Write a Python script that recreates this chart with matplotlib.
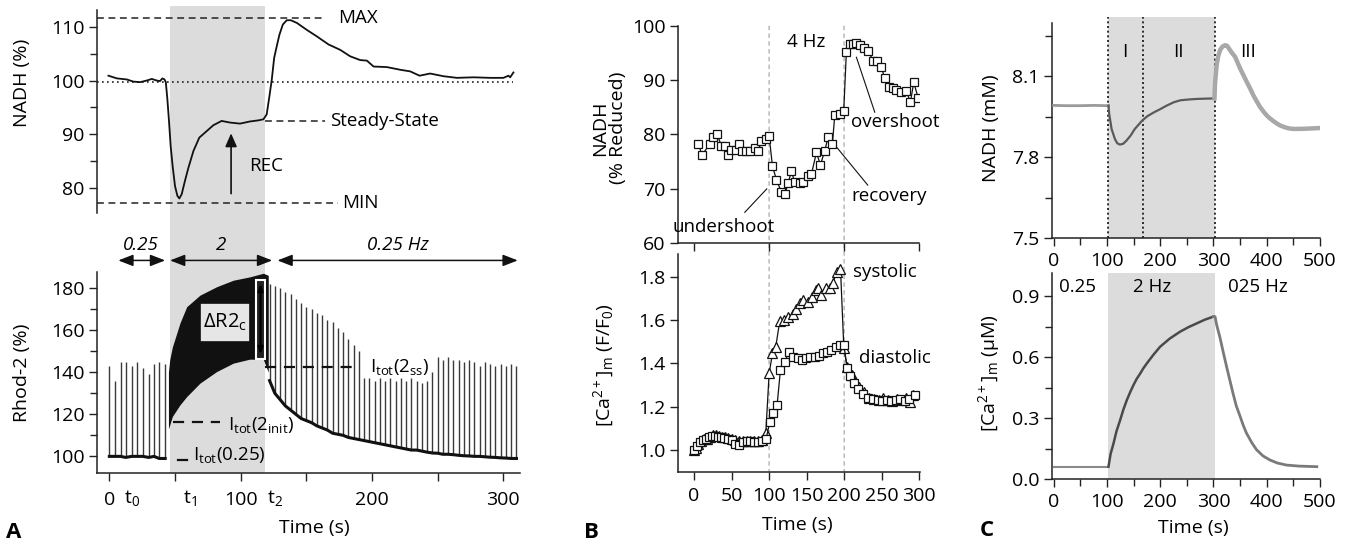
import numpy as np
import matplotlib
matplotlib.use('Agg')
import matplotlib.pyplot as plt
from matplotlib.patches import Rectangle
from matplotlib.lines import Line2D

plt.rcParams['font.family'] = ['Open Sans', 'DejaVu Sans']
plt.rcParams['mathtext.fontset'] = 'custom'
plt.rcParams['mathtext.rm'] = 'Open Sans'
plt.rcParams['mathtext.it'] = 'Open Sans:italic'
plt.rcParams['mathtext.bf'] = 'Open Sans:bold'

# ---------------- Panel A (top): NADH (%) ----------------
a_nadh_t = [-0.7, 5.7, 13.3, 18.3, 23.4, 28.5, 32.3, 36.1, 38.6, 40.4, 42.0, 43.0, 44.2, 45.5,
            46.7, 48.2, 50.0, 51.8, 53.3, 55.1, 57.6, 60.2, 64.0, 68.5, 74.1, 79.2, 85.5,
            91.8, 99.5, 107.1, 113.4, 117.3, 119.8, 121.9, 123.7, 125.5, 127.5, 129.5,
            132.1, 135.1, 138.2, 142.8, 150.4, 158.0, 166.9, 175.8, 183.4, 191.0, 196.1,
            201.2, 211.3, 221.5, 229.1, 236.2, 244.3, 254.5, 264.6, 277.3, 290.0, 300.1,
            303.9, 305.2, 307.7]
a_nadh_v = [100.9, 100.4, 100.2, 99.8, 99.7, 100.0, 100.3, 100.0, 99.9, 100.4, 100.2, 99.7,
            96.5, 92.2, 87.8, 84.1, 80.4, 78.6, 78.1, 78.9, 81.4, 83.8, 86.9, 89.4, 90.6,
            91.7, 92.5, 92.2, 92.0, 92.4, 92.6, 92.8, 93.7, 97.1, 100.2, 104.2, 106.4,
            108.5, 110.4, 111.2, 111.2, 110.7, 109.4, 108.2, 106.7, 105.7, 104.5, 103.8,
            103.7, 102.6, 102.5, 102.0, 101.7, 100.9, 101.3, 100.8, 100.5, 100.6, 100.5,
            100.5, 100.9, 100.6, 101.5]
a_nadh_max = 111.6
a_nadh_ss = 92.5
a_nadh_min = 77.3
a_nadh_base = 99.8

# ---------------- Panel A (bottom): Rhod-2 (%) ----------------
rhod_pre_t = [0, 4.5, 8.5, 12.5, 17, 21, 25.5, 30, 34, 38, 42.5]
rhod_pre_base = [100, 100, 100, 99.5, 100, 100, 100, 99.5, 100, 99, 99]
rhod_pre_peak = [143, 136, 145, 145, 143, 145, 142, 139, 144, 145, 144]

rhod_2hz_t = [45, 46, 48, 53.8, 58.9, 69, 81.7, 94.4, 107, 117.3, 121]
rhod_2hz_low = [113, 115, 119, 124.5, 128.4, 134.8, 140.3, 144.3, 146.2, 146, 140]
rhod_2hz_high = [140, 146, 152, 163.4, 171.1, 176.6, 180.6, 183.7, 185.3, 187, 186]

rhod_post_t = [122, 126, 130, 134, 138, 142, 146, 150, 154, 158, 162, 166, 170, 174, 178,
               182, 186, 190, 194, 198, 202, 206, 210, 214, 218, 222, 226, 230, 234, 238,
               242, 246, 250, 254, 258, 262, 266, 270, 274, 278, 282, 286, 290, 294, 298,
               302, 306, 310]
rhod_post_base = [136, 130, 127, 124, 122, 120, 118, 117, 116, 114.5, 113.5, 112.5, 111,
                  110.5, 110, 109, 108.5, 108, 107.5, 107, 106.5, 106, 105.5, 105, 104.5,
                  104, 103.5, 103, 103, 102.5, 102, 101.6, 101.5, 101, 101, 100.8, 100.5,
                  100.3, 100.2, 100, 100, 99.8, 99.6, 99.5, 99.3, 99.2, 99, 99]
rhod_post_peak = [182, 181, 180, 178, 177, 175, 173, 171, 170, 168, 167, 165, 164, 161,
                  159, 156, 153, 150, 137, 137, 136, 137, 136, 137, 136, 137, 136, 137,
                  136, 135, 136, 140, 147, 146, 147, 146, 146, 145, 146, 145, 143, 145,
                  144, 143, 144, 143, 144, 143]

# ---------------- Panel B (top): NADH (% reduced) ----------------
b_nadh_t = [5.3, 10.7, 20.9, 25.3, 30.7, 36.5, 41.3, 45.3, 49.8, 55.6, 60, 64.5, 69.8, 75.1,
            80.9, 85.3, 89.8, 95.6, 100, 104.5, 109.8, 116.5, 121, 125.4, 129.8, 134.2,
            140.9, 145.4, 152, 156.5, 163.2, 168.5, 174.2, 178.7, 184.5, 187.6, 194.2,
            199.6, 203.1, 207.6, 212, 216.5, 220.9, 226.3, 232, 238.7, 244, 249.8, 254.3,
            260, 265.4, 269.8, 276.5, 283.2, 288.5, 293, 298.7]
b_nadh_v = [78.3, 76.3, 78.2, 79.6, 80, 77.9, 77.9, 76.3, 77.2, 77.1, 78.3, 76.9, 76.9, 76.9,
            77.5, 76.9, 78.8, 79.2, 79.8, 74.2, 71.7, 69.4, 69, 71, 73.3, 71.2, 71.1, 71.2,
            72.4, 72.7, 76.7, 74.4, 77, 79.5, 78.3, 83.5, 83.8, 84.4, 95.1, 96.6, 96.7,
            96.9, 96.4, 95.9, 95.4, 93.6, 93.6, 92.4, 90.3, 88.8, 88.5, 88.2, 87.9, 88,
            85.9, 89.6, 86.8]

# ---------------- Panel B (bottom): [Ca2+]m (F/F0) ----------------
b_sys_t = [0, 3, 6, 9, 13, 17, 21, 25, 29, 33, 37, 41, 45, 50, 55, 60, 65, 70, 75, 80, 85, 90,
           95.6, 100.1, 104.5, 108.9, 114.3, 119.6, 125.4, 132, 136.5, 140.9, 145.4, 152,
           156.5, 162.2, 165.4, 169.8, 175.6, 180.9, 185.4, 189.8, 195.1, 199.6, 204, 209.8,
           214.2, 220, 226.2, 233.3, 240, 246, 252, 258, 264, 270, 276, 282, 287.6, 292]
b_sys_v = [1.0, 1.01, 1.03, 1.04, 1.05, 1.05, 1.06, 1.07, 1.07, 1.065, 1.06, 1.06, 1.055, 1.05,
           1.045, 1.04, 1.04, 1.04, 1.04, 1.04, 1.04, 1.045, 1.077, 1.354, 1.446, 1.477,
           1.597, 1.6, 1.615, 1.63, 1.65, 1.677, 1.692, 1.685, 1.708, 1.738, 1.746, 1.715,
           1.746, 1.75, 1.772, 1.823, 1.838, 1.469, 1.385, 1.346, 1.315, 1.292, 1.269,
           1.238, 1.235, 1.23, 1.24, 1.23, 1.225, 1.235, 1.23, 1.24, 1.223, 1.254]
b_dia_t = [0, 4, 8, 12, 16, 20, 24, 28, 32, 36, 40, 45, 50, 55, 60, 65, 70, 75, 80, 85, 90, 96,
           101, 105.4, 110.7, 115.1, 120.9, 126.7, 132, 138.7, 144.4, 149.8, 155.1, 160.9,
           166.7, 172, 177.3, 183.1, 188.9, 194.2, 199.6, 204, 207.6, 212.9, 218.7, 225.3,
           232, 238.7, 245.3, 251, 257, 263, 269, 275, 281, 287, 294]
b_dia_v = [1.0, 1.02, 1.035, 1.045, 1.05, 1.06, 1.065, 1.065, 1.06, 1.06, 1.055, 1.05, 1.045,
           1.03, 1.025, 1.035, 1.04, 1.04, 1.035, 1.035, 1.04, 1.05, 1.131, 1.172, 1.208,
           1.369, 1.408, 1.454, 1.428, 1.423, 1.415, 1.423, 1.431, 1.428, 1.434, 1.446,
           1.454, 1.462, 1.474, 1.485, 1.485, 1.377, 1.342, 1.308, 1.28, 1.259, 1.238,
           1.234, 1.231, 1.225, 1.23, 1.225, 1.23, 1.235, 1.228, 1.235, 1.254]

# ---------------- Panel C: model ----------------
c_nadh_t = [0, 25, 50, 75, 103, 104.4, 108.8, 115, 119.4, 124.4, 130.6, 136.9, 144.4, 152.5,
            160.6, 166.3, 176, 188, 200, 213, 226, 238, 254, 269, 285, 302, 303, 306, 309,
            312.5, 317, 321.9, 326, 331, 335, 340.6, 345, 350, 356, 362.5, 369, 375, 381,
            387.5, 394, 400, 406, 412.5, 419, 425, 434, 443.8, 452, 462.5, 475, 487, 496.9]
c_nadh_v = [7.992, 7.991, 7.991, 7.992, 7.991, 7.96, 7.905, 7.868, 7.852, 7.847, 7.85, 7.862,
            7.88, 7.905, 7.923, 7.936, 7.952, 7.966, 7.978, 7.992, 8.004, 8.011, 8.014,
            8.016, 8.017, 8.018, 8.073, 8.141, 8.175, 8.197, 8.21, 8.215, 8.212, 8.197,
            8.186, 8.172, 8.152, 8.129, 8.105, 8.079, 8.054, 8.029, 8.008, 7.986, 7.969,
            7.955, 7.944, 7.934, 7.925, 7.918, 7.911, 7.906, 7.905, 7.905, 7.906, 7.907,
            7.908]
c_ca_t = [0, 50, 103, 107, 112.5, 118, 125, 131, 137.5, 144, 150, 156, 162.5, 168.5, 175,
          187.5, 200, 218, 237.5, 253, 268.8, 284, 300, 303, 306, 312, 318, 325, 331, 337,
          343, 350, 356, 362, 372, 381, 393, 406, 420, 437, 460, 494]
c_ca_v = [0.062, 0.062, 0.062, 0.125, 0.177, 0.236, 0.292, 0.343, 0.39, 0.43, 0.464, 0.494,
          0.52, 0.546, 0.57, 0.613, 0.652, 0.692, 0.726, 0.748, 0.767, 0.785, 0.8, 0.8,
          0.76, 0.70, 0.63, 0.55, 0.485, 0.42, 0.36, 0.31, 0.265, 0.227, 0.18, 0.145,
          0.115, 0.095, 0.08, 0.07, 0.065, 0.062]

# tick labels
a_nadh_ticks = [80, 90, 100, 110]
a_rhod_ticks = [100, 120, 140, 160, 180]
a_time_ticks = [0, 50, 100, 150, 200, 250, 300]
a_time_labels = ['0', '', '100', '', '200', '', '300']
b_nadh_ticks = [60, 70, 80, 90, 100]
b_ca_ticks = [1.0, 1.2, 1.4, 1.6, 1.8]
b_time_ticks = [0, 50, 100, 150, 200, 250, 300]
c_nadh_ticks = [7.5, 7.8, 8.1]
c_ca_ticks = [0.0, 0.3, 0.6, 0.9]
c_time_ticks = [0, 100, 200, 300, 400, 500]

# ================= figure =================
W, H = 1351, 547
fig = plt.figure(figsize=(W / 100, H / 100), dpi=100)
FS = 14
AFS = 13.5
SHADE = '#dcdcdc'


def ax_px(x0, y0, x1, y1):
    ax = fig.add_axes([x0 / W, 1 - y1 / H, (x1 - x0) / W, (y1 - y0) / H])
    ax.patch.set_alpha(0)
    for s in ['top', 'right']:
        ax.spines[s].set_visible(False)
    for s in ['left', 'bottom']:
        ax.spines[s].set_linewidth(1.1)
        ax.spines[s].set_color('#222222')
    ax.tick_params(which='major', direction='out', length=6, width=1.0, labelsize=FS,
                   pad=3, color='#222222')
    ax.tick_params(which='minor', direction='out', length=5, width=1.0, color='#222222')
    return ax


def ftext(x, y, s, **kw):
    return fig.text(x / W, 1 - y / H, s, **kw)


def d2f(ax, x, y):
    p = ax.transData.transform((x, y))
    return fig.transFigure.inverted().transform(p)


# ---------- Panel A ----------
axA1 = ax_px(97, 10, 520, 213)
axA2 = ax_px(97, 272, 520, 473)
for ax in (axA1, axA2):
    ax.set_xlim(-9.4, 312.7)
axA1.set_ylim(75.4, 113.1)
axA2.set_ylim(92.1, 187.6)
axA1.spines['bottom'].set_visible(False)
axA1.set_xticks([])
axA1.set_yticks(a_nadh_ticks)
axA1.set_yticks([85, 95, 105], minor=True)
axA2.set_yticks(a_rhod_ticks)
axA2.set_yticks([110, 130, 150, 170], minor=True)
axA2.set_xticks(a_time_ticks)
axA2.set_xticklabels(a_time_labels)
axA2.tick_params(axis='x', pad=7)

# shading spanning both A panels
x0 = d2f(axA2, 46, 100)[0]
x1 = d2f(axA2, 118.5, 100)[0]
fig.add_artist(Rectangle((x0, 1 - 473 / H), x1 - x0, (473 - 6) / H,
                         transform=fig.transFigure, facecolor=SHADE, edgecolor='none',
                         zorder=-1))

# A top trace
axA1.plot(a_nadh_t, a_nadh_v, color='#111111', lw=1.3, zorder=3)
axA1.plot([-9.4, 307.7], [a_nadh_base] * 2, color='#222222', lw=1.2, ls=(0, (1, 2)))
dash = (0, (4.5, 3))
axA1.plot([-9.4, 164], [a_nadh_max] * 2, color='#222222', lw=1.1, ls=dash, clip_on=False)
axA1.plot([118.5, 164], [a_nadh_ss] * 2, color='#222222', lw=1.1, ls=dash)
axA1.plot([-9.4, 174], [a_nadh_min] * 2, color='#222222', lw=1.1, ls=dash)
axA1.text(174.2, a_nadh_max, 'MAX', fontsize=AFS, va='center', ha='left')
axA1.text(168, a_nadh_ss, 'Steady-State', fontsize=AFS, va='center', ha='left')
axA1.text(177, a_nadh_min, 'MIN', fontsize=AFS, va='center', ha='left')
axA1.text(106.5, 84.2, 'REC', fontsize=AFS, va='center', ha='left')
axA1.annotate('', xy=(92.7, 90.2), xytext=(92.7, 79.0),
              arrowprops=dict(arrowstyle='-|>,head_length=0.8,head_width=0.35', color='#111111',
                              lw=1.2, shrinkA=0, shrinkB=0))

# A bottom trace
axA2.vlines(rhod_pre_t, rhod_pre_base, rhod_pre_peak, color='#3a3a3a', lw=1.0)
axA2.plot(rhod_pre_t, rhod_pre_base, color='#111111', lw=2.2)
axA2.fill_between(rhod_2hz_t, rhod_2hz_low, rhod_2hz_high, color='#111111', lw=0, zorder=2)
axA2.vlines(rhod_post_t, rhod_post_base, rhod_post_peak, color='#3a3a3a', lw=1.0)
axA2.plot(rhod_post_t, rhod_post_base, color='#111111', lw=2.2)

# boxes
axA2.add_patch(Rectangle((69.1, 154.4), 38.1, 18.4, facecolor='#e6e6e6', edgecolor='#111111',
                         lw=1.2, zorder=4))
axA2.text(88.2, 163.6, r'ΔR2$_{\mathregular{c}}$', fontsize=AFS + 1, ha='center',
          va='center', zorder=5)
axA2.add_patch(Rectangle((111.5, 146.5), 7.3, 37.5, facecolor='#222222', edgecolor='white',
                         lw=1.5, zorder=4))
axA2.annotate('', xy=(115.1, 182), xytext=(115.1, 148.5),
              arrowprops=dict(arrowstyle='<|-|>,head_length=0.4,head_width=0.15',
                              color='#000000', lw=1.5, shrinkA=0, shrinkB=0), zorder=5)

hd = (0, (5, 3.5))
axA2.plot([118.7, 185.6], [142.6, 142.6], color='#111111', lw=1.6, ls=hd, zorder=5)
axA2.text(198.5, 142.5, r'$\mathregular{I_{tot}(2_{ss})}$', fontsize=AFS, va='center')
axA2.plot([48.5, 84.3], [116.1, 116.1], color='#111111', lw=1.6, ls=hd, zorder=5)
axA2.text(90.4, 114.8, r'$\mathregular{I_{tot}(2_{init})}$', fontsize=AFS, va='center')
axA2.plot([52.3, 59.2], [98.4, 98.4], color='#111111', lw=1.6, zorder=5)
axA2.text(63.7, 100.6, r'$\mathregular{I_{tot}(0.25)}$', fontsize=AFS, va='center')

# t labels
axA2.text(17.1, -0.125, r'$\mathregular{t_0}$', transform=axA2.get_xaxis_transform(),
          fontsize=FS, ha='center', va='center')
axA2.text(61.5, -0.125, r'$\mathregular{t_1}$', transform=axA2.get_xaxis_transform(),
          fontsize=FS, ha='center', va='center')
axA2.text(126.2, -0.125, r'$\mathregular{t_2}$', transform=axA2.get_xaxis_transform(),
          fontsize=FS, ha='center', va='center')

# stimulation arrows
ap = dict(arrowstyle='<|-|>,head_length=0.9,head_width=0.35', color='#111111', lw=1.1,
          shrinkA=0, shrinkB=0)
for (ta, tb) in [(6.8, 42.5), (46.2, 124), (128, 311)]:
    axA2.annotate('', xy=(ta, 193.1), xytext=(tb, 193.1), arrowprops=ap,
                  annotation_clip=False)
axA2.text(24.2, 200.6, '0.25', fontsize=AFS, style='italic', ha='center', va='center')
axA2.text(85.2, 200.6, '2', fontsize=AFS, style='italic', ha='center', va='center')
axA2.text(219.9, 200.6, '0.25 Hz', fontsize=AFS, style='italic', ha='center', va='center')

ftext(22, 83, 'NADH (%)', fontsize=FS, rotation=90, ha='center', va='center')
ftext(22, 373, 'Rhod-2 (%)', fontsize=FS, rotation=90, ha='center', va='center')
ftext(314, 528, 'Time (s)', fontsize=FS, ha='center', va='center')
ftext(14, 533, 'A', fontsize=16, fontweight='bold', ha='center', va='center')

# ---------- Panel B ----------
axB1 = ax_px(678, 25.7, 919, 243.3)
axB2 = ax_px(678, 254, 920, 471.7)
axB1.set_xlim(-21.5, 300)
axB2.set_xlim(-21.3, 301)
axB1.set_ylim(60, 100)
axB2.set_ylim(0.9, 1.905)
axB1.set_yticks(b_nadh_ticks)
axB1.set_xticks([0, 100, 200, 300])
axB1.set_xticklabels([])
axB2.set_yticks(b_ca_ticks)
axB2.set_yticklabels(['%.1f' % v for v in b_ca_ticks])
axB2.set_xticks(b_time_ticks)
axB2.tick_params(axis='x', pad=5)

for tv in (100, 200):
    p0 = d2f(axB1, tv, 100)
    p1 = d2f(axB2, tv, 0.9)
    fig.add_artist(Line2D([p0[0], p1[0]], [p0[1], p1[1]], transform=fig.transFigure,
                          color='#a0a0a0', lw=0.8, ls=(0, (4, 3)), zorder=-1))

mk = dict(color='#111111', lw=0.9, mfc='white', mec='#111111', mew=0.9)
axB1.plot(b_nadh_t, b_nadh_v, marker='s', ms=6, **mk)
axB2.plot(b_sys_t, b_sys_v, marker='^', ms=6.5, **mk)
axB2.plot(b_dia_t, b_dia_v, marker='s', ms=6, **mk)

axB1.text(149.9, 97, '4 Hz', fontsize=AFS, ha='center', va='center')
axB1.text(39.6, 63.0, 'undershoot', fontsize=AFS, ha='center', va='center')
axB1.plot([67.6, 96.9], [65.7, 70.0], color='#111111', lw=0.8)
axB1.text(209.9, 82.3, 'overshoot', fontsize=AFS, ha='left', va='center')
axB1.plot([216.5, 241], [94.2, 84.1], color='#111111', lw=0.8)
axB1.text(209.9, 68.7, 'recovery', fontsize=AFS, ha='left', va='center')
axB1.plot([189.9, 231.6], [77.7, 70.7], color='#111111', lw=0.8)
axB2.text(211.6, 1.821, 'systolic', fontsize=AFS, ha='left', va='center')
axB2.text(219.6, 1.425, 'diastolic', fontsize=AFS, ha='left', va='center')

ftext(609, 128, 'NADH\n(% Reduced)', fontsize=FS, rotation=90, ha='center', va='center',
      linespacing=0.95)
ftext(604, 365, r'[Ca$^{\mathregular{2+}}$]$_{\mathregular{m}}$ (F/F$_{\mathregular{0}}$)',
      fontsize=FS, rotation=90, ha='center', va='center')
ftext(797, 525, 'Time (s)', fontsize=FS, ha='center', va='center')
ftext(591, 533, 'B', fontsize=16, fontweight='bold', ha='center', va='center')

# ---------- Panel C ----------
axC1 = ax_px(1052, 23.3, 1320, 238.3)
axC2 = ax_px(1052, 273.3, 1320, 479.3)
for ax in (axC1, axC2):
    ax.set_xlim(-3, 500)
    ax.set_xticks(c_time_ticks)
    ax.set_xticks([50, 150, 250, 350, 450], minor=True)
    ax.tick_params(axis='x', pad=4)
axC1.set_ylim(7.5, 8.296)
axC1.set_yticks(c_nadh_ticks)
axC1.set_yticklabels(['%.1f' % v for v in c_nadh_ticks])
axC1.set_yticks([7.65, 7.95, 8.25], minor=True)
axC2.set_ylim(0, 1.013)
axC2.set_yticks(c_ca_ticks)
axC2.set_yticklabels(['%.1f' % v for v in c_ca_ticks])
axC2.set_yticks([0.15, 0.45, 0.75], minor=True)

axC1.axvspan(103, 302, ymin=0, ymax=1.031, facecolor=SHADE, edgecolor='none', zorder=0,
             clip_on=False)
axC2.axvspan(103, 302, facecolor=SHADE, edgecolor='none', zorder=0)
for tv in (103, 167, 302):
    axC1.axvline(tv, ymin=0, ymax=1.031, color='#111111', lw=1.2, ls=(0, (1.2, 1.6)),
                 clip_on=False, zorder=2)

ct = np.array(c_nadh_t)
cv = np.array(c_nadh_v)
m1 = ct <= 103
m2 = (ct >= 103) & (ct <= 302)
m3 = ct >= 302
axC1.plot(ct[m1], cv[m1], color='#9a9a9a', lw=2.0, zorder=3)
axC1.plot(ct[m2], cv[m2], color='#5a5a5a', lw=1.6, zorder=3)
axC1.plot(ct[m3], cv[m3], color='#a8a8a8', lw=3.2, zorder=3)

ct2 = np.array(c_ca_t)
cv2 = np.array(c_ca_v)
n1 = ct2 <= 103
n2 = (ct2 >= 103) & (ct2 <= 300)
n3 = ct2 >= 300
axC2.plot(ct2[n1], cv2[n1], color='#8a8a8a', lw=1.5, zorder=3)
axC2.plot(ct2[n2], cv2[n2], color='#4a4a4a', lw=1.8, zorder=3)
axC2.plot(ct2[n3], cv2[n3], color='#7a7a7a', lw=2.0, zorder=3)

axC1.text(134.4, 8.189, 'I', fontsize=AFS, ha='center', va='center')
axC1.text(233.8, 8.189, 'II', fontsize=AFS, ha='center', va='center')
axC1.text(365, 8.189, 'III', fontsize=AFS, ha='center', va='center')
axC2.text(44.4, 0.946, '0.25', fontsize=AFS, ha='center', va='center')
axC2.text(185, 0.946, '2 Hz', fontsize=AFS, ha='center', va='center')
axC2.text(384, 0.946, '025 Hz', fontsize=AFS, ha='center', va='center')

ftext(991, 128, 'NADH (mM)', fontsize=FS, rotation=90, ha='center', va='center')
ftext(989, 373, r'[Ca$^{\mathregular{2+}}$]$_{\mathregular{m}}$ (μM)', fontsize=FS,
      rotation=90, ha='center', va='center')
ftext(1193, 528, 'Time (s)', fontsize=FS, ha='center', va='center')
ftext(987, 531, 'C', fontsize=16, fontweight='bold', ha='center', va='center')

fig.savefig('out.png', dpi=100)
